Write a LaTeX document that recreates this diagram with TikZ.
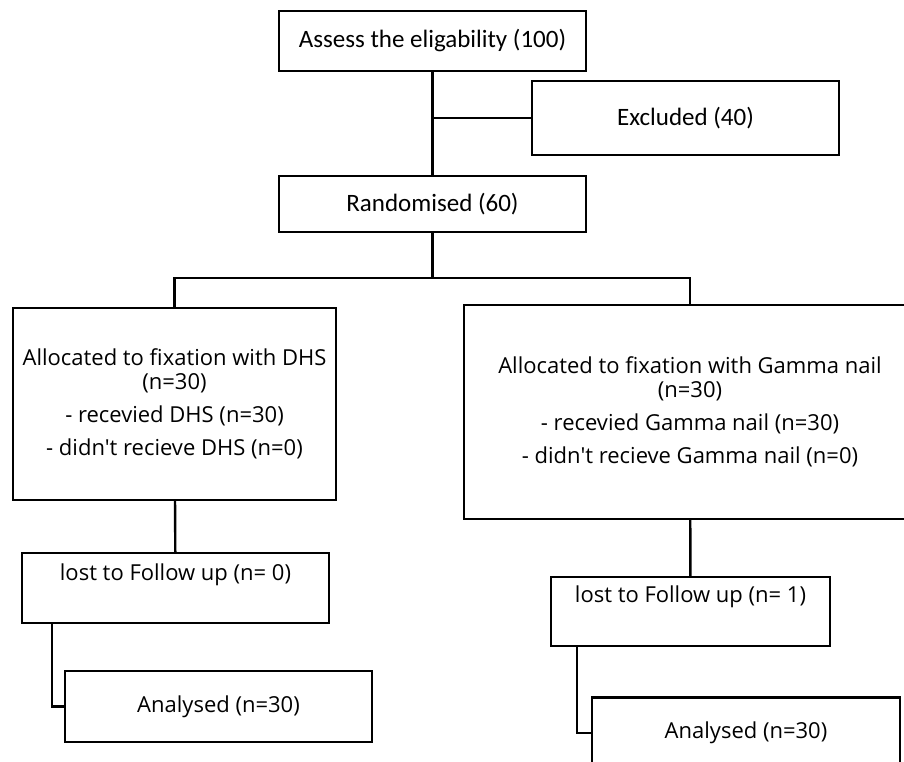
\documentclass[tikz,border=0pt]{standalone}
\usepackage{fontspec}
\setmainfont{Carlito}
\newfontfamily\armfont[Ligatures=TeXOff]{Open Sans}

\begin{document}
\begin{tikzpicture}[x=1pt,y=-1pt,
  box/.style={draw,line width=2.4pt,inner sep=0pt,align=center},
  topbox/.style={box,minimum width=307pt,font=\fontsize{25}{28}\selectfont},
  armbox/.style={box,font=\armfont\fontsize{22}{24}\selectfont},
  followbox/.style={armbox,minimum width=307pt,anchor=north,text depth=43pt},
  link/.style={line width=2.4pt}]
\useasboundingbox (0,0) rectangle (904,762);

\node[topbox,minimum height=60pt] (assess) at (432.5,41) {Assess the eligability (100)};
\node[topbox,minimum height=74pt] (excl) at (685.5,118) {Excluded (40)};
\node[topbox,minimum height=56pt] (rand) at (432.5,204) {Randomised (60)};

\node[armbox,minimum width=323pt,minimum height=192pt] (dhs) at (174.5,404)
  {Allocated to fixation with DHS\\(n=30)\\[9pt]- recevied DHS (n=30)\\[9pt]- didn't recieve DHS (n=0)};
\node[armbox,minimum width=452pt,minimum height=214pt] (gamma) at (690,412)
  {Allocated to fixation with Gamma nail\\(n=30)\\[9pt]- recevied Gamma nail (n=30)\\[9pt]- didn't recieve Gamma nail (n=0)};

\node[followbox,text height=27pt] (lost0) at (175.5,552) {lost to Follow up (n= 0)};
\node[followbox,minimum width=279pt,text height=25pt,text depth=44pt] (lost1) at (690.5,576) {lost to Follow up (n= 1)};

\node[armbox,minimum width=307pt,minimum height=71pt] (ana0) at (218.5,706.5) {Analysed (n=30)};
\node[armbox,minimum width=308pt,minimum height=71pt] (ana1) at (746,733) {Analysed (n=30)};

\coordinate (split) at (432.5,278);

\draw[link] (assess) -- (rand);
\draw[link] (excl.west) -- (excl.west -| assess.south);
\draw[link] (rand) -- (split);
\draw[link] (dhs.north) |- (split) -| (gamma.north);
\draw[link] (dhs) -- (lost0);
\draw[link] (gamma) -- (lost1);
\draw[link] ([xshift=31pt]lost0.south west) |- (ana0.west);
\draw[link] ([xshift=27pt]lost1.south west) |- (ana1.west);

\end{tikzpicture}
\end{document}
